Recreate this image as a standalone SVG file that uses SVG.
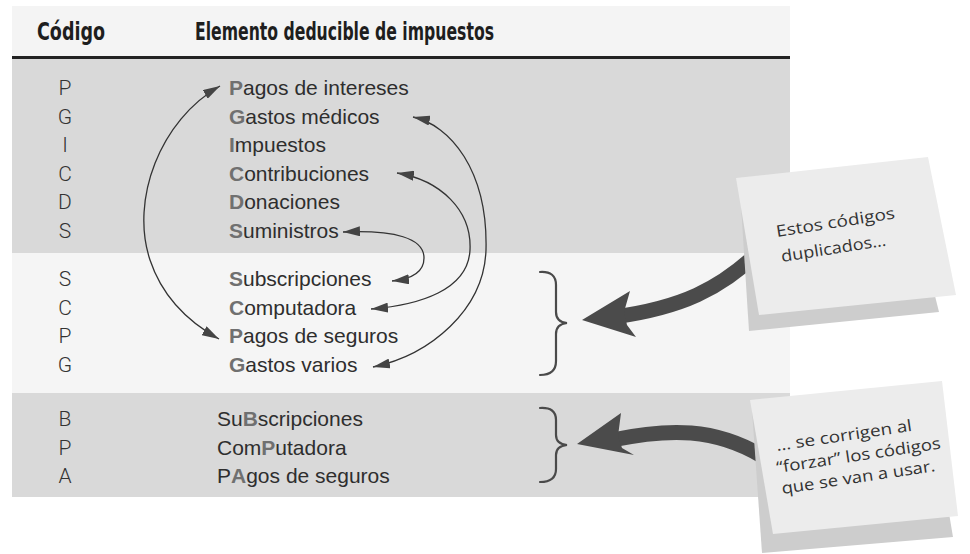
<svg xmlns="http://www.w3.org/2000/svg" width="970" height="554" viewBox="0 0 970 554">
<style>
.hdr{font-family:"DejaVu Sans Condensed","Liberation Sans Narrow","DejaVu Sans",sans-serif;font-stretch:condensed;font-weight:bold;font-size:24.5px;fill:#1e1e1e}
.code{font-family:Roboto,"Liberation Sans",Arial,sans-serif;font-weight:300;font-size:21px;fill:#333;text-anchor:middle}
.item{font-family:"Liberation Sans",Arial,sans-serif;font-size:21px;fill:#2e2e2e}
.hl{font-weight:bold;fill:#707070}
.thin{fill:none;stroke:#333;stroke-width:1.3}
.brace{fill:none;stroke:#4a4a4a;stroke-width:2.2;stroke-linecap:round}
.thick{fill:none;stroke:#4b4b4b;stroke-width:15}
.head{fill:#4b4b4b}
.note{fill:#ececec}
.shadow{fill:#cdcdcd}
.hand{font-family:"Open Sans","DejaVu Sans",sans-serif;font-size:16px;fill:#333}
</style>
<defs>
<marker id="ah" viewBox="0 0 17 10" refX="17" refY="5" markerWidth="17" markerHeight="10" markerUnits="userSpaceOnUse" orient="auto-start-reverse">
<path d="M0,0 L17,5 L0,10 Z" fill="#444"/>
</marker>
</defs>

<g id="bands">
<rect x="12" y="6" width="778" height="50" fill="#f4f4f4"/>
<rect x="12" y="56" width="778" height="3" fill="#222"/>
<rect x="12" y="59" width="778" height="194" fill="#d9d9d9"/>
<rect x="12" y="253" width="778" height="140" fill="#f5f5f5"/>
<rect x="12" y="393" width="778" height="104" fill="#d9d9d9"/>
</g>

<g id="header">
<text class="hdr" x="37" y="40" textLength="68" lengthAdjust="spacingAndGlyphs">Código</text>
<text class="hdr" x="195" y="40" textLength="299" lengthAdjust="spacingAndGlyphs">Elemento deducible de impuestos</text>
</g>

<g id="connectors">
<path class="thin" marker-start="url(#ah)" marker-end="url(#ah)" d="M220 86 C160 120 130 200 150 260 C163 299 192 324 219 339"/>
<path class="thin" marker-start="url(#ah)" marker-end="url(#ah)" d="M413 117 C450 125 488 170 486 250 C484 310 430 355 373 367"/>
<path class="thin" marker-start="url(#ah)" marker-end="url(#ah)" d="M397 173 C440 180 472 210 470 250 C468 290 420 305 371 309"/>
<path class="thin" marker-start="url(#ah)" marker-end="url(#ah)" d="M343 232 C395 230 424 238 424 258 C424 272 412 279 392 281"/>
</g>

<g id="band1">
<text class="code" x="65" y="95">P</text>
<text class="code" x="65" y="123.6">G</text>
<text class="code" x="65" y="152.2">I</text>
<text class="code" x="65" y="180.8">C</text>
<text class="code" x="65" y="209.4">D</text>
<text class="code" x="65" y="238">S</text>
<text class="item" x="229" y="95"><tspan class="hl">P</tspan>agos de intereses</text>
<text class="item" x="229" y="123.6"><tspan class="hl">G</tspan>astos médicos</text>
<text class="item" x="229" y="152.2"><tspan class="hl">I</tspan>mpuestos</text>
<text class="item" x="229" y="180.8"><tspan class="hl">C</tspan>ontribuciones</text>
<text class="item" x="229" y="209.4"><tspan class="hl">D</tspan>onaciones</text>
<text class="item" x="229" y="238"><tspan class="hl">S</tspan>uministros</text>
</g>

<g id="band2">
<text class="code" x="65" y="286">S</text>
<text class="code" x="65" y="314.6">C</text>
<text class="code" x="65" y="343.2">P</text>
<text class="code" x="65" y="371.8">G</text>
<text class="item" x="229" y="286"><tspan class="hl">S</tspan>ubscripciones</text>
<text class="item" x="229" y="314.6"><tspan class="hl">C</tspan>omputadora</text>
<text class="item" x="229" y="343.2"><tspan class="hl">P</tspan>agos de seguros</text>
<text class="item" x="229" y="371.8"><tspan class="hl">G</tspan>astos varios</text>
</g>

<g id="band3">
<text class="code" x="65" y="426">B</text>
<text class="code" x="65" y="454.6">P</text>
<text class="code" x="65" y="483">A</text>
<text class="item" x="217" y="426">Su<tspan class="hl">B</tspan>scripciones</text>
<text class="item" x="217" y="454.6">Com<tspan class="hl">P</tspan>utadora</text>
<text class="item" x="217" y="483">P<tspan class="hl">A</tspan>gos de seguros</text>
</g>

<g id="brace1">
<path class="brace" d="M540 272 Q556 271 556 285 L556 312 Q556 322 567 323 Q556 324 556 334 L556 361 Q556 375 540 375"/>
</g>
<g id="brace2">
<path class="brace" d="M540 408 Q556 407 556 420 L556 435 Q556 444 567 445 Q556 446 556 455 L556 469 Q556 482 540 482"/>
</g>

<g id="arrow1">
<path class="thick" d="M762 249 C720 290 680 308 614 317"/>
<polygon class="head" points="582,320 630,291 624,312 627,325 636,337"/>
</g>
<g id="arrow2">
<path class="thick" d="M762 456 C715 428 670 428 612 440"/>
<polygon class="head" points="577,444 621,413 618,436 622,448 634,455"/>
</g>

<g id="note1">
<polygon class="shadow" points="740,190 905,175 939,312 749,331"/>
<polygon class="note" points="736,178 928,157 956,295 759,315"/>
<g transform="translate(777,237) rotate(-9)">
<text class="hand" x="0" y="0" textLength="120" lengthAdjust="spacingAndGlyphs">Estos códigos</text>
<text class="hand" x="1" y="25.5" textLength="106" lengthAdjust="spacingAndGlyphs">duplicados…</text>
</g>
</g>

<g id="note2">
<polygon class="shadow" points="752,410 930,400 953,537 762,553"/>
<polygon class="note" points="750,400 942,381 958,516 773,534"/>
<g transform="translate(777,451) rotate(-8.5)">
<text class="hand" x="0" y="0" textLength="137" lengthAdjust="spacingAndGlyphs">… se corrigen al</text>
<text class="hand" x="-3" y="21.8" textLength="166" lengthAdjust="spacingAndGlyphs">“forzar” los códigos</text>
<text class="hand" x="-1" y="43.3" textLength="155" lengthAdjust="spacingAndGlyphs">que se van a usar.</text>
</g>
</g>
</svg>
